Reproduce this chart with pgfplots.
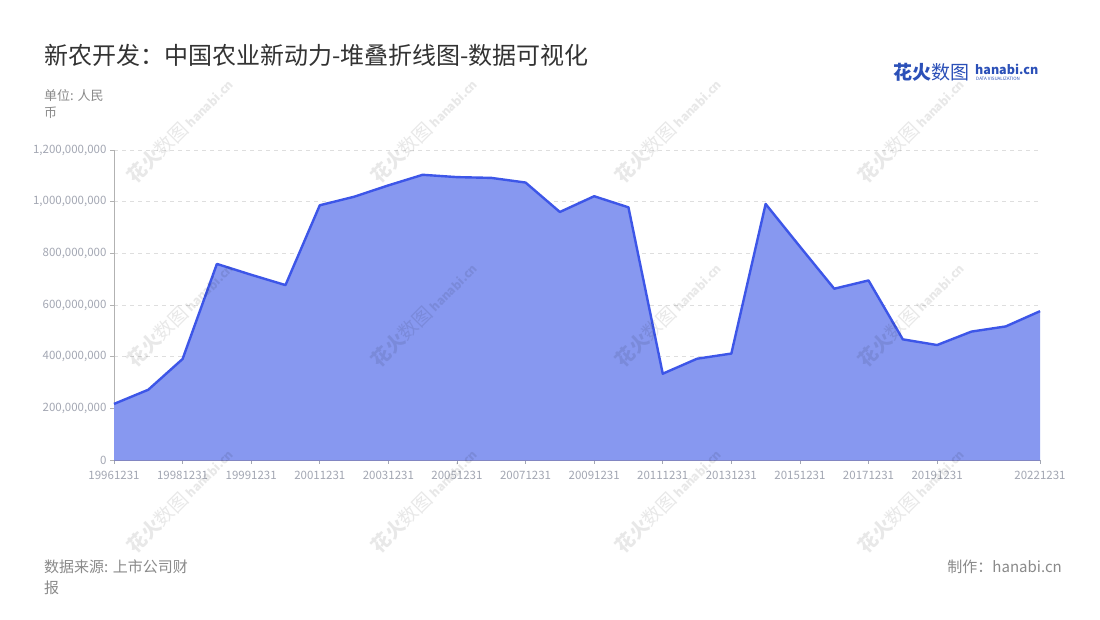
\documentclass[border=0pt]{standalone}
\usepackage{pgfplots}
\usepackage{pgfplotstable}
\pgfplotsset{compat=1.18}
\usepackage{fontspec}
\setmainfont{Noto Sans CJK SC}
\definecolor{fillc}{HTML}{8798F0}
\definecolor{linec}{HTML}{3D56E8}
\definecolor{titlec}{HTML}{333333}
\definecolor{subc}{HTML}{8A8A8A}
\definecolor{tickc}{HTML}{A3A7B3}
\definecolor{gridc}{HTML}{DEDEDE}
\definecolor{logoc}{HTML}{2B50B8}
\pgfplotstableread{
x y
0 217000000
1 272000000
2 391000000
3 759000000
4 717000000
5 677000000
6 986000000
7 1019000000
8 1063000000
9 1104000000
10 1095000000
11 1092000000
12 1074000000
13 960000000
14 1021000000
15 978000000
16 334000000
17 392000000
18 412000000
19 991000000
20 826000000
21 663000000
22 695000000
23 467000000
24 445000000
25 497000000
26 517000000
27 576000000
}\datatable
\begin{document}
\begin{tikzpicture}[x=1pt,y=1pt]
\path[use as bounding box, fill=white] (0,0) rectangle (1100,620);
\begin{axis}[at={(114pt,160pt)}, anchor=south west, width=926pt, height=310pt, scale only axis,
  xmin=0, xmax=27, ymin=0, ymax=1200000000,
  xtick={0,2,4,6,8,10,12,14,16,18,20,22,24,27},
  xticklabels={19961231,19981231,19991231,20011231,20031231,20051231,20071231,20091231,20111231,20131231,20151231,20171231,20191231,20221231},
  ytick={0,200000000,400000000,600000000,800000000,1000000000,1200000000},
  yticklabels={0,{200,000,000},{400,000,000},{600,000,000},{800,000,000},{1,000,000,000},{1,200,000,000}},
  scaled y ticks=false,
  axis x line*=bottom, axis y line*=left,
  x axis line style={draw=tickc!80!blue, line width=0.8pt},
  y axis line style={draw=gridc!80!black, line width=0.8pt},
  ymajorgrids, grid style={dashed, gridc, line width=0.8pt, dash pattern=on 4pt off 4pt},
  tick align=outside, major tick length=4pt,
  xtick style={draw=tickc, line width=0.8pt},
  ytick style={draw=gridc!80!black, line width=0.8pt},
  tick label style={font=\fontsize{11.5}{13}\selectfont, text=tickc},
  xticklabel style={yshift=-4pt},
  clip=false,
]
\addplot[draw=none, fill=fillc] table[x=x,y=y]{\datatable} \closedcycle;
\addplot[draw=linec, line width=2.4pt, line join=round, mark=none] table[x=x,y=y]{\datatable};
\end{axis}
% watermarks
\foreach \cx in {180,424,668,911}{
  \foreach \cy in {120,306,490}{
    \node[rotate=45, opacity=0.09, text=black, inner sep=0pt] at (\cx, \cy)
      {\fontsize{19}{20}\selectfont\bfseries 花火\mdseries 数图\hspace{3pt}\fontsize{12}{13}\selectfont\bfseries hanabi.cn};
  }
}
% title
\node[anchor=west, text=titlec, font=\fontsize{24}{27}\selectfont, inner sep=0pt] at (44, 565) {新农开发：中国农业新动力-堆叠折线图-数据可视化};
\node[anchor=north west, text=subc, font=\fontsize{13}{17}\selectfont, align=left, inner sep=0pt] at (44, 531) {单位: 人民\\币};
\node[anchor=north west, text=subc, font=\fontsize{15}{21}\selectfont, align=left, inner sep=0pt] at (44, 60) {数据来源: 上市公司财\\报};
\node[anchor=north east, text=subc, font=\fontsize{15}{21}\selectfont, inner sep=0pt] at (1062, 60) {制作：hanabi.cn};
% logo
\node[anchor=west, text=logoc, font=\fontsize{19}{20}\selectfont\bfseries, inner sep=0pt] at (893, 548) {花火\textmd{数图}};
\node[anchor=west, text=logoc, font=\fontsize{12.5}{14}\selectfont\bfseries, inner sep=0pt] at (975, 551) {hanabi.cn};
\node[anchor=west, text=logoc, font=\fontsize{4.5}{5}\selectfont, inner sep=0pt] at (976, 541) {DATA VISUALIZATION};
\end{tikzpicture}
\end{document}
